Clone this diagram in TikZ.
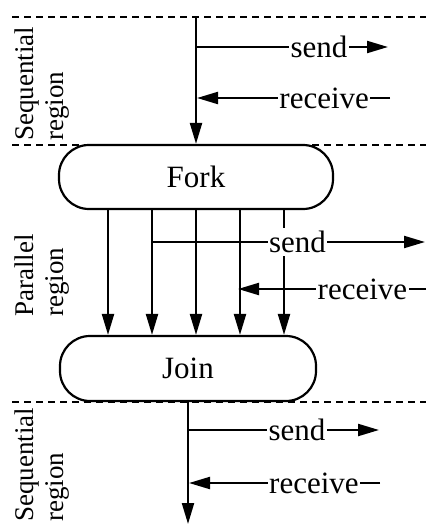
\documentclass[tikz,border=0pt]{standalone}
\usepackage{fontspec}
\setmainfont{Liberation Serif}
\usetikzlibrary{arrows.meta}
\newcommand\phasefont{\fontsize{31}{36}\selectfont}
\newcommand\msgfont{\fontsize{31}{36}\selectfont}
\newcommand\regfont{\fontsize{27}{30}\selectfont}
\begin{document}
\begin{tikzpicture}[x=1pt,y=-1pt,line width=2.2pt,
  tip/.style={-{Triangle[length=21pt,width=12pt]}},
  phase/.style={draw,rounded corners=30pt,inner sep=0pt,font=\phasefont},
  msg/.style={fill=white,inner xsep=1.5pt,inner ysep=3pt,font=\msgfont},
  regionlabel/.style={rotate=90,anchor=north west,align=left,inner sep=0pt,font=\regfont},
  divider/.style={dash pattern=on 7pt off 5pt,line width=1.8pt}]
\useasboundingbox (0,0) rectangle (426,524);

% region dividers
\coordinate (d1a) at (12,17);   \coordinate (d1b) at (426,17);
\coordinate (d2a) at (12,145);  \coordinate (d2b) at (426,145);
\coordinate (d3a) at (12,402);  \coordinate (d3b) at (426,402);
\draw[divider] (d1a) -- (d1b);
\draw[divider] (d2a) -- (d2b);
\draw[divider] (d3a) -- (d3b);

% region labels
\node[regionlabel] (lab1) at (14,142) {Sequential\\region};
\node[regionlabel] (lab2) at (14,318) {Parallel\\region};
\node[regionlabel] (lab3) at (14,523) {Sequential\\region};

% fork and join
\node[phase,minimum width=274pt,minimum height=64pt] (fork) at (196,177) {Fork};
\node[phase,minimum width=256pt,minimum height=65pt] (join) at (188,368.5) {Join};

% sequential thread before the fork
\coordinate (start) at (196,17);
\draw[tip] (start) -- (fork.north);
\coordinate (s1a) at (196,47);  \coordinate (s1b) at (388,47);
\draw[tip] (s1a) -- node[msg,pos=0.641] (send1) {send} (s1b);
\coordinate (r1a) at (390,98);  \coordinate (r1b) at (197,98);
\draw[tip] (r1a) -- node[msg,pos=0.341] (recv1) {receive} (r1b);

% parallel threads
\foreach \i/\x in {1/108,2/152,3/196,4/240,5/284}{
  \coordinate (px\i) at (\x,0);
  \draw[tip] (fork.south -| px\i) -- (join.north -| px\i);
}
\coordinate (s2a) at (153,242);  \coordinate (s2b) at (425,242);
\draw[tip] (s2a) -- node[msg,pos=0.531] (send2) {send} (s2b);
\coordinate (r2a) at (426,289);  \coordinate (r2b) at (238,289);
\draw[tip] (r2a) -- node[msg,pos=0.338] (recv2) {receive} (r2b);

% sequential thread after the join
\coordinate (finish) at (188,524);
\draw[tip] (join.south) -- (finish);
\coordinate (s3a) at (188,430);  \coordinate (s3b) at (379,430);
\draw[tip] (s3a) -- node[msg,pos=0.571] (send3) {send} (s3b);
\coordinate (r3a) at (380,483);  \coordinate (r3b) at (189,483);
\draw[tip] (r3a) -- node[msg,pos=0.346] (recv3) {receive} (r3b);
\end{tikzpicture}
\end{document}
